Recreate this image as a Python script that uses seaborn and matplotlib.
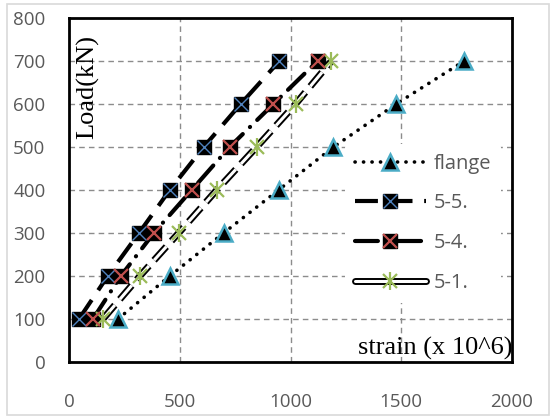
import matplotlib
matplotlib.use("Agg")
import matplotlib.pyplot as plt
import matplotlib.patheffects as pe
from matplotlib.lines import Line2D
from matplotlib.legend_handler import HandlerTuple
from matplotlib.patches import Rectangle
import seaborn as sns
import pandas as pd

# load levels (kN)
load = [100, 200, 300, 400, 500, 600, 700]

# strain readings (x 10^6)
strain_flange = [221, 455, 698, 946, 1194, 1477, 1784]
strain_55 = [45, 175, 316, 455, 608, 775, 950]
strain_54 = [108, 234, 383, 554, 725, 923, 1122]
strain_51 = [153, 320, 495, 667, 847, 1023, 1185]

labels = ["flange", "5-5.", "5-4.", "5-1."]
x_ticks = [0, 500, 1000, 1500, 2000]
y_ticks = [0, 100, 200, 300, 400, 500, 600, 700, 800]

sns.set_style("white")
plt.rcParams['font.family'] = ['Open Sans', 'DejaVu Sans']

TICK_GRAY = '#595959'
BLUE = '#4F81BD'
RED = '#C0504D'
GREEN = '#9BBB59'
CYAN = '#4BACC6'

fig = plt.figure(figsize=(5.51, 4.16), dpi=100)
ax = fig.add_axes([69 / 551, 54 / 416, 443 / 551, 344 / 416])

# outer chart border
fig.patches.append(Rectangle((7 / 551, 1 / 416), 542 / 551, 411 / 416,
                             transform=fig.transFigure, fill=False,
                             edgecolor='#D9D9D9', linewidth=1.2))

df = pd.DataFrame({'load': load, 'flange': strain_flange, '55': strain_55,
                   '54': strain_54, '51': strain_51})

# series lines
dotted = (0, (0.05, 2.3))
dashed = (0, (5.5, 2.8))
dashdot = (0, (5.5, 2.4, 0.05, 2.4))
longdash = (0, (6, 2.5))
sns.lineplot(data=df, x='flange', y='load', ax=ax, sort=False, errorbar=None,
             color='black', lw=2.6, linestyle=dotted, dash_capstyle='round', zorder=3)
sns.lineplot(data=df, x='55', y='load', ax=ax, sort=False, errorbar=None,
             color='black', lw=3.0, linestyle=dashed, zorder=3)
sns.lineplot(data=df, x='54', y='load', ax=ax, sort=False, errorbar=None,
             color='black', lw=3.0, linestyle=dashdot,
             dash_capstyle='round', zorder=3)
double = [pe.Stroke(linewidth=5, foreground='black'), pe.Normal()]
sns.lineplot(data=df, x='51', y='load', ax=ax, sort=False, errorbar=None,
             color='white', lw=2.2, linestyle=longdash,
             path_effects=double, zorder=3)

# markers
ax.plot(strain_flange, load, ls='none', marker='^', ms=11, mfc='black',
        mec=CYAN, mew=1.8, zorder=5)
ax.plot(strain_55, load, ls='none', marker='s', ms=10.5, mfc='black',
        mec='black', zorder=5)
ax.plot(strain_55, load, ls='none', marker='x', ms=9.5, mec=BLUE,
        mew=1.0, zorder=6)
ax.plot(strain_54, load, ls='none', marker='s', ms=10.5, mfc='black',
        mec='black', zorder=5)
ax.plot(strain_54, load, ls='none', marker='x', ms=9.5, mec=RED,
        mew=1.6, zorder=6)
ax.plot(strain_51, load, ls='none', marker='x', ms=9.5, mec=GREEN,
        mew=1.6, zorder=5)
ax.plot(strain_51, load, ls='none', marker='|', ms=12.5, mec=GREEN,
        mew=1.6, zorder=5)

ax.set_xlim(0, 2000)
ax.set_ylim(0, 800)
ax.set_xticks(x_ticks)
ax.set_yticks(y_ticks)
ax.set_xlabel('')
ax.set_ylabel('')
ax.tick_params(axis='both', length=0, labelsize=13.5, colors=TICK_GRAY)
ax.tick_params(axis='y', pad=17)
ax.tick_params(axis='x', pad=22)

ax.grid(True, color='#8C8C8C', linestyle=(0, (4, 3)), linewidth=1.0)
ax.set_axisbelow(True)
for s in ax.spines.values():
    s.set_visible(True)
    s.set_color('black')
    s.set_linewidth(2.0)

# axis titles inside the plot
ax.text(0.043, 0.80, 'Load(kN)', transform=ax.transAxes, rotation=90,
        ha='center', va='center', fontsize=19, family='Liberation Serif',
        color='black')
ax.text(1.0, 0.005, 'strain (x 10^6)', transform=ax.transAxes,
        ha='right', va='bottom', fontsize=19, family='Liberation Serif',
        color='black', zorder=7)

# legend
h_flange = (Line2D([], [], color='black', lw=2.6, ls=dotted, dash_capstyle='round'),
            Line2D([], [], ls='none', marker='^', ms=11, mfc='black', mec=CYAN, mew=1.8))
h_55 = (Line2D([], [], color='black', lw=3.0, ls=dashed),
        Line2D([], [], ls='none', marker='s', ms=10.5, mfc='black', mec='black'),
        Line2D([], [], ls='none', marker='x', ms=9.5, mec=BLUE, mew=1.0))
h_54 = (Line2D([], [], color='black', lw=3.0, ls=dashdot, dash_capstyle='round'),
        Line2D([], [], ls='none', marker='s', ms=10.5, mfc='black', mec='black'),
        Line2D([], [], ls='none', marker='x', ms=9.5, mec=RED, mew=1.6))
h_51 = (Line2D([], [], color='white', lw=2.2, path_effects=double),
        Line2D([], [], ls='none', marker='x', ms=9.5, mec=GREEN, mew=1.6),
        Line2D([], [], ls='none', marker='|', ms=12.5, mec=GREEN, mew=1.6))

leg = ax.legend([h_flange, h_55, h_54, h_51], labels,
                handler_map={tuple: HandlerTuple(ndivide=1)},
                loc='upper left', bbox_to_anchor=(0.623, 0.635),
                borderaxespad=0, fontsize=14.5, handlelength=3.5,
                handletextpad=0.4, labelspacing=0.98, frameon=True,
                facecolor='white', edgecolor='none', framealpha=1,
                borderpad=0.5)
for t in leg.get_texts():
    t.set_color(TICK_GRAY)
leg.set_zorder(4)

fig.savefig('out.png', dpi=100)
